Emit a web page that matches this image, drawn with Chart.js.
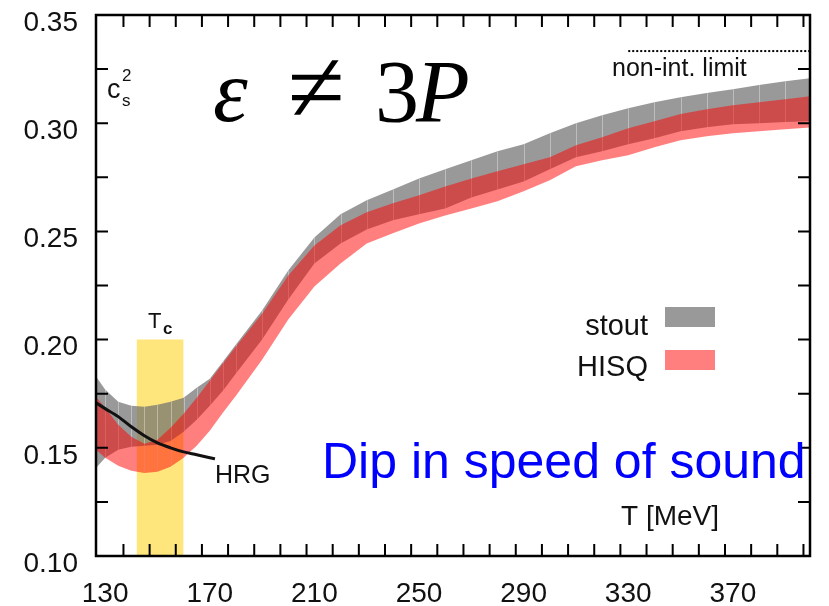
<!DOCTYPE html>
<html lang="en">
<head>
<meta charset="UTF-8">
<title>Speed of sound: stout vs HISQ</title>
<script src="https://cdn.jsdelivr.net/npm/chart.js"></script>
<style>
  html, body { margin: 0; padding: 0; background: #fff; }
  #wrap { width: 829px; height: 606px; }
</style>
</head>
<body>
<div id="wrap"><canvas id="cs2Chart" width="829" height="606"></canvas></div>
<script>
// band nodes, T in MeV
const temps = [126.5, 130, 135, 140, 145, 150, 155, 160, 165, 170, 175, 180, 190, 200, 210, 220, 230,
               240, 250, 260, 270, 280, 290, 300, 310, 320, 330, 340, 350, 360, 370, 380, 390, 400];

// stout (Wuppertal-Budapest) band, c_s^2
const stoutUpper = [0.1829, 0.1769, 0.1713, 0.1694, 0.1690, 0.1699, 0.1713, 0.1731, 0.1778, 0.1819, 0.1898, 0.1977,
                    0.2134, 0.2319, 0.2472, 0.2579, 0.2644, 0.2694, 0.2745, 0.2787, 0.2829, 0.2870, 0.2903, 0.2954,
                    0.3000, 0.3037, 0.3069, 0.3097, 0.3120, 0.3139, 0.3157, 0.3176, 0.3194, 0.3208];
const stoutLower = [0.1407, 0.1454, 0.1491, 0.1505, 0.1509, 0.1514, 0.1532, 0.1574, 0.1630, 0.1694, 0.1764, 0.1843,
                    0.2000, 0.2185, 0.2352, 0.2444, 0.2509, 0.2551, 0.2579, 0.2606, 0.2657, 0.2694, 0.2731, 0.2787,
                    0.2843, 0.2870, 0.2903, 0.2931, 0.2963, 0.2981, 0.2995, 0.3000, 0.3005, 0.3009];

// HISQ (HotQCD) band
const hisqUpper = [0.1736, 0.1685, 0.1606, 0.1551, 0.1519, 0.1537, 0.1593, 0.1657, 0.1731, 0.1810, 0.1889, 0.1968,
                   0.2120, 0.2296, 0.2435, 0.2528, 0.2588, 0.2630, 0.2667, 0.2708, 0.2745, 0.2778, 0.2810, 0.2843,
                   0.2898, 0.2935, 0.2977, 0.3009, 0.3042, 0.3065, 0.3083, 0.3097, 0.3111, 0.3125];
const hisqLower = [0.1491, 0.1454, 0.1417, 0.1394, 0.1384, 0.1389, 0.1412, 0.1454, 0.1509, 0.1579, 0.1662, 0.1741,
                   0.1907, 0.2093, 0.2245, 0.2352, 0.2444, 0.2491, 0.2537, 0.2574, 0.2606, 0.2639, 0.2685, 0.2736,
                   0.2801, 0.2829, 0.2852, 0.2889, 0.2921, 0.2940, 0.2954, 0.2963, 0.2972, 0.2981];

// hadron resonance gas curve
const hrgTemps = [126.5, 130, 135, 140, 145, 150, 155, 160, 165, 170, 172];
const hrgValues = [0.1708, 0.1681, 0.1644, 0.1597, 0.1556, 0.1523, 0.1500, 0.1481, 0.1468, 0.1454, 0.1449];

// crossover region and non-interacting limit
const tcRange = [142, 160];
const tcTop = 0.20;
const limitRange = [330, 400];
const limitValue = 1 / 3;

// axes
const xLabels = [130, 170, 210, 250, 290, 330, 370];
const yLabels = [0.10, 0.15, 0.20, 0.25, 0.30, 0.35];

const pts = (xs, ys) => xs.map((t, i) => ({ x: t, y: ys[i] }));

const GRAY = 'rgba(110,110,110,0.7)';
const RED = 'rgba(255,0,0,0.5)';
const YELLOW = '#ffe67c';
const INK = '#111';

const decor = {
    id: 'decor',
    afterDatasetDraw(chart, args) {
        // faint white seams between band segments
        if (args.index !== 3) return;
        const { ctx, chartArea: a, scales: { x, y } } = chart;
        ctx.save();
        ctx.beginPath();
        ctx.rect(a.left, a.top, a.right - a.left, a.bottom - a.top);
        ctx.clip();
        ctx.strokeStyle = 'rgba(255,255,255,0.35)';
        ctx.lineWidth = 1;
        ctx.beginPath();
        temps.forEach((t, i) => {
            if (i === 0 || i === temps.length - 1) return;
            const px = Math.round(x.getPixelForValue(t)) + 0.5;
            const top = Math.min(y.getPixelForValue(stoutUpper[i]), y.getPixelForValue(hisqUpper[i]));
            const bot = Math.max(y.getPixelForValue(stoutLower[i]), y.getPixelForValue(hisqLower[i]));
            ctx.moveTo(px, top);
            ctx.lineTo(px, bot);
        });
        ctx.stroke();
        ctx.restore();
    },
    afterDraw(chart) {
        const { ctx, chartArea: a, scales: { x, y } } = chart;
        ctx.save();

        // frame with inward ticks on all four sides
        ctx.strokeStyle = '#000';
        ctx.lineWidth = 2;
        ctx.beginPath();
        for (let t = 137; t < 400; t += 10) {
            const px = x.getPixelForValue(t);
            ctx.moveTo(px, a.bottom); ctx.lineTo(px, a.bottom - 12);
            ctx.moveTo(px, a.top); ctx.lineTo(px, a.top + 12);
        }
        for (let v = 0.125; v < 0.35; v += 0.025) {
            const py = y.getPixelForValue(v);
            ctx.moveTo(a.left, py); ctx.lineTo(a.left + 12, py);
            ctx.moveTo(a.right, py); ctx.lineTo(a.right - 12, py);
        }
        ctx.stroke();
        ctx.lineWidth = 2.5;
        ctx.strokeRect(a.left, a.top, a.right - a.left, a.bottom - a.top);

        const txt = (s, px, py, font, align = 'left', color = INK) => {
            ctx.font = font;
            ctx.textAlign = align;
            ctx.textBaseline = 'alphabetic';
            ctx.fillStyle = color;
            ctx.fillText(s, px, py);
        };
        const sans = '"Liberation Sans", Arial, sans-serif';
        const serif = '"Liberation Serif", "Times New Roman", serif';

        // c_s^2
        txt('c', 107, 98, '27px ' + sans);
        txt('s', 122, 106, '17px ' + sans);
        txt('2', 122, 81, '17px ' + sans);

        // epsilon != 3P
        txt('\u03B5', 213, 121, 'italic 88px ' + serif, 'left', '#000');
        txt('\u2260', 316, 122, '104px ' + serif, 'center', '#000');
        txt('3', 375, 121, '88px ' + serif, 'left', '#000');
        txt('P', 416, 121, 'italic 88px ' + serif, 'left', '#000');

        // labels
        txt('non-int. limit', 612, 76, '25px ' + sans);
        txt('T', 148, 328, '22px ' + sans);
        txt('c', 163, 334, 'bold 17px ' + sans);
        txt('HRG', 215, 483, '25px ' + sans);
        txt('T [MeV]', 621, 525, '28px ' + sans);

        // legend
        txt('stout', 648, 335, '29px ' + sans, 'right');
        txt('HISQ', 648, 376, '29px ' + sans, 'right');
        ctx.fillStyle = GRAY;
        ctx.fillRect(665, 307, 50, 20);
        ctx.fillStyle = RED;
        ctx.fillRect(665, 350, 50, 20);

        txt('Dip in speed of sound', 322, 478, '50px ' + sans, 'left', '#0000ff');
        ctx.restore();
    }
};

new Chart(document.getElementById('cs2Chart'), {
    type: 'line',
    data: {
        datasets: [
            { label: 'stout', data: pts(temps, stoutUpper), fill: '+1', backgroundColor: GRAY,
              borderWidth: 0, pointRadius: 0, order: 2 },
            { label: 'stout low', data: pts(temps, stoutLower), fill: false,
              borderWidth: 0, pointRadius: 0, order: 2 },
            { label: 'HISQ', data: pts(temps, hisqUpper), fill: '+1', backgroundColor: RED,
              borderWidth: 0, pointRadius: 0, order: 1 },
            { label: 'HISQ low', data: pts(temps, hisqLower), fill: false,
              borderWidth: 0, pointRadius: 0, order: 1 },
            { label: 'Tc', data: pts(tcRange, [tcTop, tcTop]), fill: 'start', backgroundColor: YELLOW,
              borderWidth: 0, pointRadius: 0, order: 3 },
            { label: 'HRG', data: pts(hrgTemps, hrgValues), fill: false, borderColor: '#111',
              borderWidth: 3, pointRadius: 0, tension: 0.3, order: 0 },
            { label: 'limit', data: pts(limitRange, [limitValue, limitValue]), fill: false,
              borderColor: '#000', borderWidth: 2, borderDash: [2, 2], pointRadius: 0, order: 0 }
        ]
    },
    options: {
        responsive: false,
        animation: false,
        layout: { padding: { left: 0, right: 19, top: 15, bottom: 0 } },
        plugins: { legend: { display: false }, tooltip: { enabled: false } },
        scales: {
            x: {
                type: 'linear', min: 126.5, max: 399.5,
                grid: { display: false, drawTicks: false }, border: { display: false },
                afterBuildTicks: s => { s.ticks = xLabels.map(v => ({ value: v })); },
                afterFit: s => { s.height = 50; s.paddingLeft = 0; s.paddingRight = 0; },
                ticks: { autoSkip: false, maxRotation: 0, padding: 21, color: INK,
                         font: { family: 'Liberation Sans', size: 28 }, callback: v => String(v) }
            },
            y: {
                type: 'linear', min: 0.10, max: 0.35,
                grid: { display: false, drawTicks: false }, border: { display: false },
                afterBuildTicks: s => { s.ticks = yLabels.map(v => ({ value: v })); },
                afterFit: s => { s.width = 96; s.paddingTop = 0; s.paddingBottom = 0; },
                ticks: { padding: 18, labelOffset: 8, color: INK,
                         font: { family: 'Liberation Sans', size: 28 }, callback: v => v.toFixed(2) }
            }
        }
    },
    plugins: [decor]
});
</script>
</body>
</html>
